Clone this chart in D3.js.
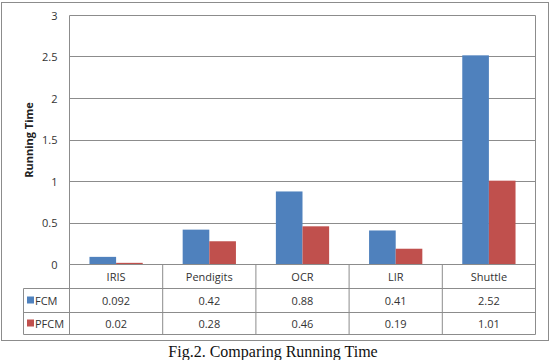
<!DOCTYPE html>
<html>
<head>
<meta charset="utf-8">
<script src="https://cdn.jsdelivr.net/npm/d3@7"></script>
<style>
  body { margin: 0; background: #fff; }
  svg text { font-family: "Open Sans", sans-serif; }
</style>
</head>
<body>
<div id="chart"></div>
<script>
const categories = ["IRIS", "Pendigits", "OCR", "LIR", "Shuttle"];
const seriesNames = ["FCM", "PFCM"];
const fcmValues = [0.092, 0.42, 0.88, 0.41, 2.52];
const pfcmValues = [0.02, 0.28, 0.46, 0.19, 1.01];
const fcmLabels = ["0.092", "0.42", "0.88", "0.41", "2.52"];
const pfcmLabels = ["0.02", "0.28", "0.46", "0.19", "1.01"];
const yTicks = [0, 0.5, 1, 1.5, 2, 2.5, 3];
const colors = ["#4F81BD", "#C0504D"];

const W = 552, H = 360;
const plotLeft = 69.5, plotRight = 535.5, plotTop = 15.5, plotBottom = 264.5;
const rowH = [24, 24, 22];
const legendLeft = 23.5;

const svg = d3.select("#chart").append("svg")
    .attr("width", W).attr("height", H);

// outer frame
svg.append("rect")
    .attr("x", 1.5).attr("y", 2.5)
    .attr("width", 547).attr("height", 338)
    .attr("fill", "none").attr("stroke", "#8c8c8c");

const x0 = d3.scaleBand().domain(categories).range([plotLeft, plotRight]).paddingInner(0).paddingOuter(0);
const x1 = d3.scaleBand().domain(seriesNames).range([0, x0.bandwidth()]).paddingInner(0).paddingOuter(0.75);
const y = d3.scaleLinear().domain([0, 3]).range([plotBottom, plotTop]);

// gridlines
svg.append("g").selectAll("line")
    .data(yTicks)
    .enter().append("line")
    .attr("x1", plotLeft).attr("x2", plotRight)
    .attr("y1", d => Math.round(y(d) - 0.5) + 0.5)
    .attr("y2", d => Math.round(y(d) - 0.5) + 0.5)
    .attr("stroke", "#8c8c8c").attr("stroke-width", 1);

// y axis labels
const yAxis = svg.append("g")
    .attr("transform", `translate(${plotLeft},0)`)
    .call(d3.axisLeft(y).tickValues(yTicks).tickSize(0).tickPadding(12).tickFormat(d3.format("")));
yAxis.select(".domain").remove();
yAxis.selectAll("text").attr("font-size", 11).attr("fill", "#333")
    .style("font-family", "'Open Sans', sans-serif");

svg.append("line")
    .attr("x1", plotLeft).attr("x2", plotLeft).attr("y1", plotTop).attr("y2", plotBottom)
    .attr("stroke", "#8c8c8c");

svg.append("text")
    .attr("transform", `translate(33,${(plotTop + plotBottom) / 2}) rotate(-90)`)
    .attr("text-anchor", "middle")
    .attr("font-size", 11).attr("font-weight", "bold").attr("fill", "#222")
    .text("Running Time");

// bars
const data = categories.map((c, i) => ({ cat: c, vals: [fcmValues[i], pfcmValues[i]] }));
const groups = svg.append("g").selectAll("g")
    .data(data)
    .enter().append("g")
    .attr("transform", d => `translate(${x0(d.cat)},0)`);
groups.selectAll("rect")
    .data(d => d.vals.map((v, j) => ({ name: seriesNames[j], v: v, j: j })))
    .enter().append("rect")
    .attr("x", d => x1(d.name))
    .attr("width", x1.bandwidth())
    .attr("y", d => y(d.v))
    .attr("height", d => plotBottom - y(d.v))
    .attr("fill", d => colors[d.j]);

// data table
const table = svg.append("g").attr("stroke", "#8c8c8c").attr("fill", "none");
const rowY = [plotBottom, plotBottom + rowH[0], plotBottom + rowH[0] + rowH[1], plotBottom + rowH[0] + rowH[1] + rowH[2]];
rowY.forEach((ry, i) => {
  table.append("line")
      .attr("x1", i === 0 ? plotLeft : legendLeft).attr("x2", plotRight)
      .attr("y1", ry).attr("y2", ry);
});
table.append("line").attr("x1", legendLeft).attr("x2", legendLeft).attr("y1", rowY[1]).attr("y2", rowY[3]);
categories.forEach(c => {
  table.append("line").attr("x1", x0(c)).attr("x2", x0(c)).attr("y1", rowY[0]).attr("y2", rowY[3]);
});
table.append("line").attr("x1", plotRight).attr("x2", plotRight).attr("y1", plotTop).attr("y2", rowY[3]);

const cellText = svg.append("g").attr("font-size", 11).attr("fill", "#333").attr("text-anchor", "middle");
categories.forEach((c, i) => {
  const cx = x0(c) + x0.bandwidth() / 2;
  cellText.append("text").attr("x", cx).attr("y", rowY[0] + rowH[0] / 2 + 4).text(c);
  cellText.append("text").attr("x", cx).attr("y", rowY[1] + rowH[1] / 2 + 4).text(fcmLabels[i]);
  cellText.append("text").attr("x", cx).attr("y", rowY[2] + rowH[2] / 2 + 4).text(pfcmLabels[i]);
});

// legend keys in table
seriesNames.forEach((s, j) => {
  const ry = rowY[j + 1] + rowH[j + 1] / 2;
  svg.append("rect")
      .attr("x", 27).attr("y", ry - 4).attr("width", 7).attr("height", 7)
      .attr("fill", colors[j]);
  svg.append("text")
      .attr("x", 35).attr("y", ry + 4)
      .attr("font-size", 11).attr("fill", "#333")
      .text(s);
});

// caption
svg.append("text")
    .attr("x", 273).attr("y", 357)
    .attr("text-anchor", "middle")
    .attr("font-size", 16)
    .style("font-family", "'Liberation Serif', 'Times New Roman', serif")
    .attr("fill", "#111")
    .text("Fig.2. Comparing Running Time");
</script>
</body>
</html>
